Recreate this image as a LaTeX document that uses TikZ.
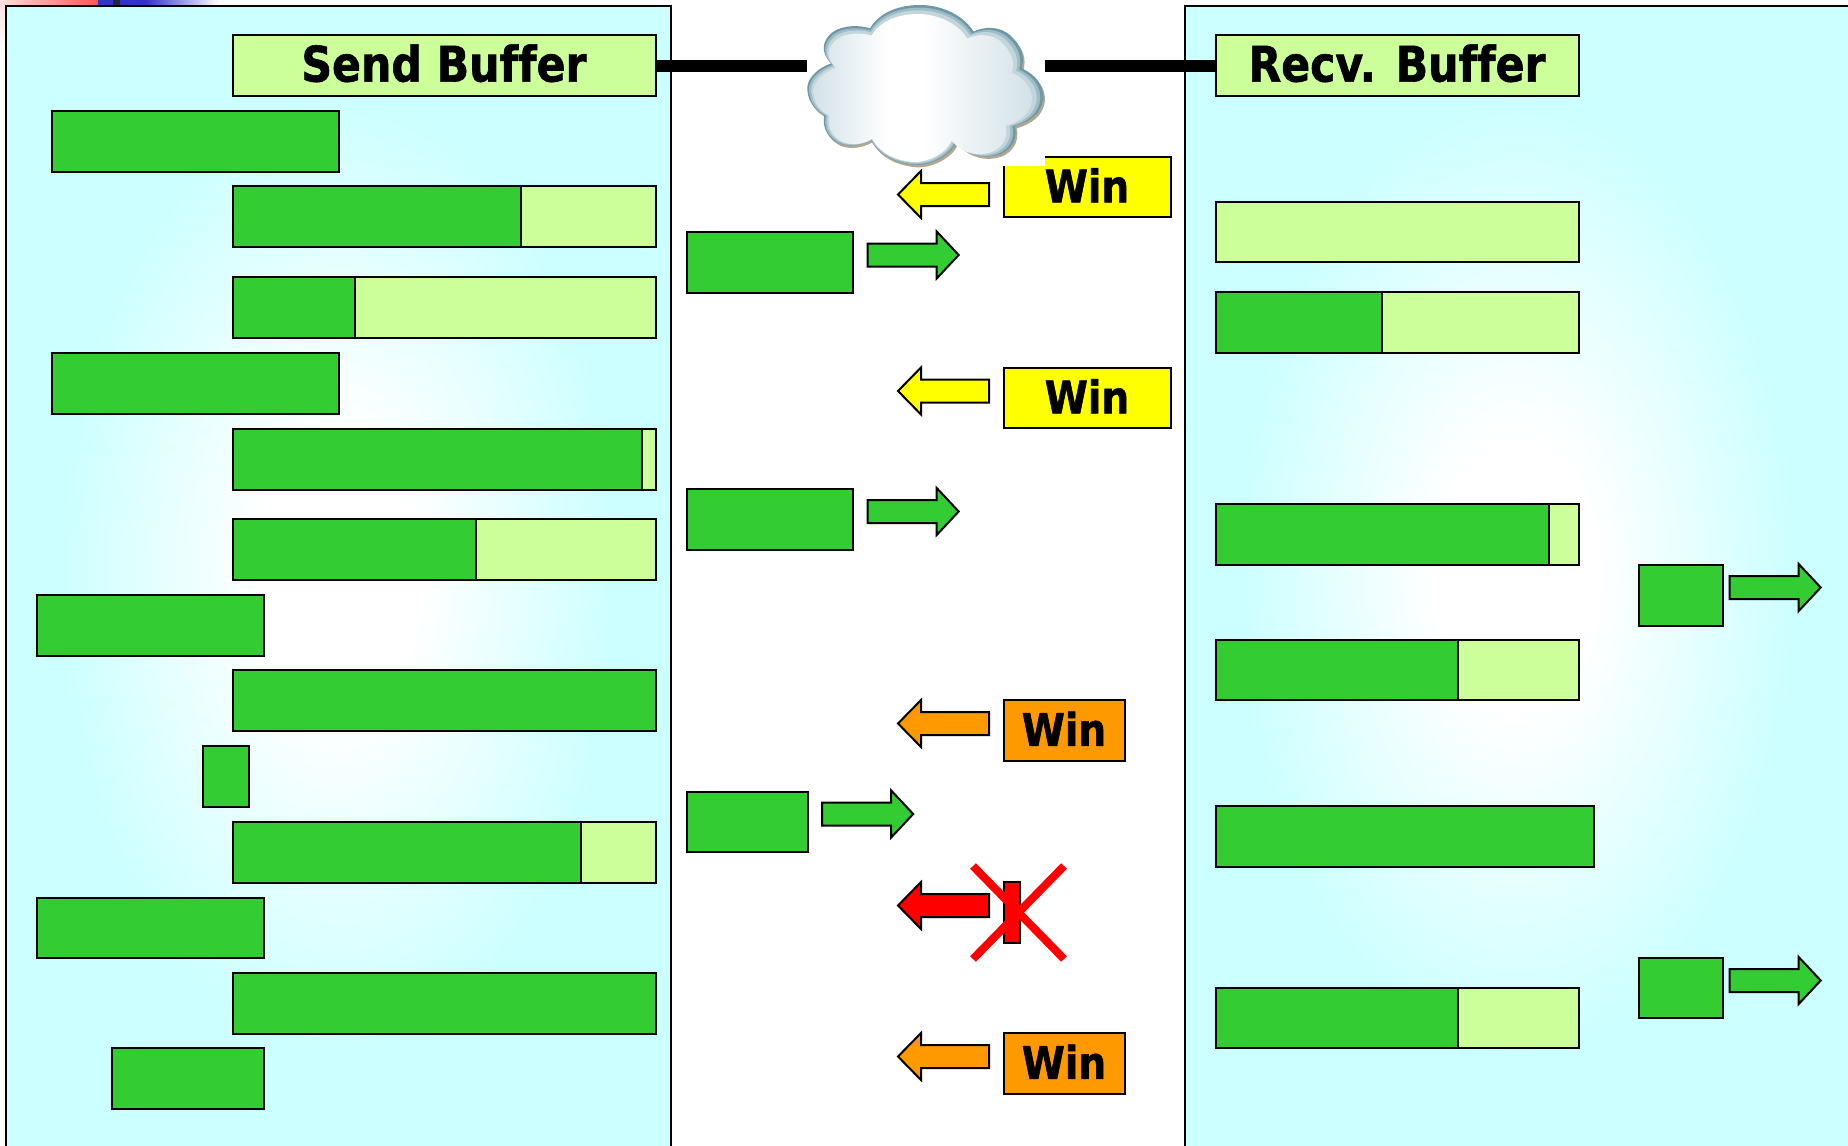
\documentclass[tikz,border=0pt]{standalone}
\usepackage{fontspec}
\setmainfont[Ligatures=NoCommon,BoldFeatures={FakeStretch=0.87,FakeBold=1.2}]{DejaVu Sans}
\definecolor{pcyan}{HTML}{CCFFFF}
\definecolor{lgreen}{HTML}{CCFF99}
\definecolor{dgreen}{HTML}{33CC33}
\definecolor{worange}{HTML}{FF9900}
\definecolor{wyellow}{HTML}{FFFF00}
\definecolor{cloudrim}{HTML}{6F98A6}
\definecolor{cloudmid}{HTML}{9DBCC6}
\definecolor{cloudsoft}{HTML}{C2D5DC}
\definecolor{cloudshadow}{HTML}{B2A78F}
\definecolor{cloudedge}{HTML}{D3E2E8}
\definecolor{sblue}{HTML}{3333CC}
\pgfdeclareradialshading{panelsh}{\pgfpoint{0bp}{0bp}}{color(0bp)=(white);color(6bp)=(white);color(21bp)=(pcyan);color(50bp)=(pcyan)}
\pgfdeclarehorizontalshading{cloudsh}{100bp}{color(0bp)=(cloudedge);color(25bp)=(cloudedge);color(42bp)=(white);color(50bp)=(white);color(75bp)=(cloudedge);color(100bp)=(cloudedge)}
\pgfdeclarehorizontalshading{redsh}{100bp}{color(0bp)=(red!12);color(25bp)=(red!12);color(75bp)=(red!68);color(100bp)=(red!68)}
\pgfdeclarehorizontalshading{bluesh}{100bp}{color(0bp)=(sblue);color(25bp)=(sblue);color(45bp)=(sblue);color(75bp)=(white);color(100bp)=(white)}
\tikzset{
  barbox/.style={draw=black,line width=2pt,inner sep=0pt,outer sep=0pt},
  arrowshape/.style={draw=black,line width=2pt,line join=miter},
  titletext/.style={font=\fontsize{49}{49}\selectfont\bfseries,text=black,yshift=2.5pt},
  wintext/.style={font=\fontsize{45}{45}\selectfont\bfseries,text=black,yshift=2pt},
  linkline/.style={line width=12pt,black},
  crossline/.style={line width=8pt,red},
  panelline/.style={line width=2pt,black}
}
\newcommand{\bx}[7][]{\node[barbox,fill=#7,minimum width={(#5-#3)*1pt},minimum height={(#6-#4)*1pt},#1] (#2) at ({(#3+#5)/2+0.5},{(#4+#6)/2+0.3}) {};}
% left/right-pointing block arrows: colour, back x, head base x, tip x, centre y
\newcommand{\blockarrow}[5]{\draw[arrowshape,fill=#1] (#2,#5-11.5) -- (#3,#5-11.5) -- (#3,#5-23.5) -- (#4,#5) -- (#3,#5+23.5) -- (#3,#5+11.5) -- (#2,#5+11.5) -- cycle;}
\newcommand{\rarrow}[3]{\blockarrow{#1}{#2+0.7}{#2+69.7}{#2+91.7}{#3}}
\newcommand{\larrow}[2]{\blockarrow{#1}{989}{921}{898}{#2}}
\newcommand{\cloudpath}{(270,85) .. controls (300,35) and (360,15) .. (420,15)
 .. controls (490,15) and (555,50) .. (580,95)
 .. controls (610,80) and (660,75) .. (695,110)
 .. controls (725,140) and (735,170) .. (725,205)
 .. controls (770,225) and (792,260) .. (790,295)
 .. controls (785,340) and (750,365) .. (705,378)
 .. controls (715,420) and (690,460) .. (640,468)
 .. controls (600,475) and (555,460) .. (530,425)
 .. controls (510,470) and (450,497) .. (405,495)
 .. controls (350,490) and (300,470) .. (272,420)
 .. controls (240,440) and (190,445) .. (160,420)
 .. controls (135,400) and (128,375) .. (133,345)
 .. controls (100,330) and (80,295) .. (82,260)
 .. controls (85,230) and (120,200) .. (155,190)
 .. controls (120,160) and (125,120) .. (160,95)
 .. controls (190,75) and (240,75) .. (270,85) -- cycle}
\begin{document}
\begin{tikzpicture}[x=1pt,y=-1pt]
\useasboundingbox (0,0) rectangle (1848,1146);
\fill[white] (0,0) rectangle (1848,1146);
% remnants of a slide strip along the top-left corner
\shade[shading=redsh] (0,0) rectangle (98,5);
\shade[shading=bluesh] (98,0) rectangle (218,5);
\fill[black!85] (113,0) rectangle (120,5);
\shade[top color=red!12,bottom color=white] (0,5) rectangle (5,52);
% panels
\node[shade,shading=panelsh,inner sep=0pt,outer sep=0pt,minimum width=665pt,minimum height=1140pt] (leftpanel) at (338.5,576) {};
\node[shade,shading=panelsh,inner sep=0pt,outer sep=0pt,minimum width=663.5pt,minimum height=1140pt] (rightpanel) at (1516.25,576) {};
\draw[panelline] (leftpanel.south west) -- (leftpanel.north west) -- (leftpanel.north east) -- (leftpanel.south east);
\draw[panelline] (rightpanel.south west) -- (rightpanel.north west) -- (rightpanel.north east);
% send buffer
\bx{send}{232}{35}{655}{96}{lgreen}
\node[titletext] (sendlabel) at (send.center) {Send Buffer};
\bx{sa}{51}{111}{338}{172}{dgreen}
\bx{sbl}{520}{186}{655}{247}{lgreen}
\bx{sb}{232}{186}{520}{247}{dgreen}
\bx{scl}{354}{277}{655}{338}{lgreen}
\bx{sc}{232}{277}{354}{338}{dgreen}
\bx{sd}{51}{353}{338}{414}{dgreen}
\bx{sel}{641}{429}{655}{490}{lgreen}
\bx{se}{232}{429}{641}{490}{dgreen}
\bx{sfl}{475}{519}{655}{580}{lgreen}
\bx{sf}{232}{519}{475}{580}{dgreen}
\bx{sg}{36}{595}{263}{656}{dgreen}
\bx{sh}{232}{670}{655}{731}{dgreen}
\bx{si}{202}{746}{248}{807}{dgreen}
\bx{sjl}{580}{822}{655}{883}{lgreen}
\bx{sj}{232}{822}{580}{883}{dgreen}
\bx{sk}{36}{898}{263}{958}{dgreen}
\bx{sl}{232}{973}{655}{1034}{dgreen}
\bx{sm}{111}{1048}{263}{1109}{dgreen}
% receive buffer
\bx{recv}{1215}{35}{1578}{96}{lgreen}
\node[titletext] (recvlabel) at (recv.center) {Recv. Buffer};
\bx{ra}{1215}{202}{1578}{262}{lgreen}
\bx{rbl}{1381}{292}{1578}{353}{lgreen}
\bx{rb}{1215}{292}{1381}{353}{dgreen}
\bx{rcl}{1548}{504}{1578}{565}{lgreen}
\bx{rc}{1215}{504}{1548}{565}{dgreen}
\bx{rdl}{1457}{640}{1578}{700}{lgreen}
\bx{rd}{1215}{640}{1457}{700}{dgreen}
\bx{re}{1215}{806}{1593}{867}{dgreen}
\bx{rfl}{1457}{988}{1578}{1048}{lgreen}
\bx{rf}{1215}{988}{1457}{1048}{dgreen}
\bx{ro}{1638}{565}{1722}{626}{dgreen}
\rarrow{dgreen}{1729}{587.5}
\bx{rp}{1638}{958}{1722}{1018}{dgreen}
\rarrow{dgreen}{1729}{980.5}
% middle
\bx{ma}{686}{232}{852}{293}{dgreen}
\rarrow{dgreen}{867}{255}
\bx{mb}{686}{489}{852}{550}{dgreen}
\rarrow{dgreen}{867}{511.5}
\bx{mc}{686}{792}{807}{852}{dgreen}
\rarrow{dgreen}{821.5}{814}
% window messages
\bx{wa}{1003}{157}{1170}{217}{wyellow}
\node[wintext] (walabel) at (wa.center) {Win};
\larrow{wyellow}{194.5}
\bx{wb}{1003}{368}{1170}{428}{wyellow}
\node[wintext] (wblabel) at (wb.center) {Win};
\larrow{wyellow}{391}
\bx{wc}{1003}{700}{1124}{761}{worange}
\node[wintext] (wclabel) at (wc.center) {Win};
\larrow{worange}{723.5}
\bx{wd}{1003}{882}{1019}{943}{red}
\larrow{red}{905.5}
\draw[crossline] (973,866) -- (1064,959);
\draw[crossline] (1064,866) -- (973,959);
\bx{we}{1003}{1033}{1124}{1094}{worange}
\node[wintext] (welabel) at (we.center) {Win};
\larrow{worange}{1056.5}
% cloud
\node[fill=white,inner sep=0pt,outer sep=0pt,minimum width=238pt,minimum height=166pt] (cloud) at (926,83) {};
\begin{scope}[shift={(780,0)},x=0.3333pt,y=-0.3333pt]
 \fill[cloudshadow,shift={(5,7)}] \cloudpath;
 \fill[cloudrim] \cloudpath;
 \begin{scope}[shift={(435,258)},scale=0.98,shift={(-437,-255)}]
  \fill[cloudmid] \cloudpath;
 \end{scope}
 \begin{scope}[shift={(434,260)},scale=0.955,shift={(-438,-255)}]
  \fill[cloudsoft] \cloudpath;
 \end{scope}
 \begin{scope}[shift={(432,264)},scale=0.925,shift={(-440,-255)}]
  \shade[shading=cloudsh] \cloudpath;
 \end{scope}
\end{scope}
% links
\draw[linkline] (send.east) -- (send.east -| cloud.west);
\draw[linkline] (cloud.east |- recv.west) -- (recv.west);
\end{tikzpicture}
\end{document}
